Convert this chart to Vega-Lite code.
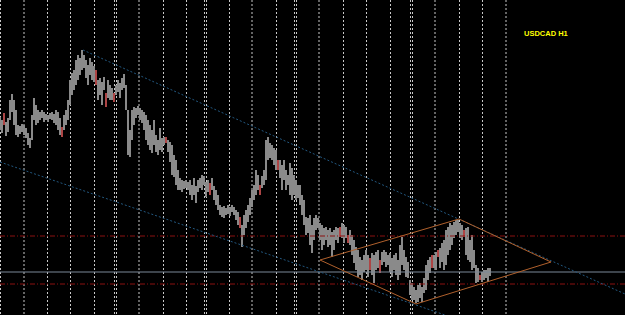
{
  "$schema": "https://vega.github.io/schema/vega-lite/v6.json",
  "width": 625,
  "height": 315,
  "autosize": {"type": "none"},
  "padding": 0,
  "background": "#000000",
  "config": {"view": {"stroke": null}, "axis": {"disable": true}},
  "datasets": {
    "bars": [
      {"t":0,"hi":1.3198,"lo":1.3185,"dir":"u"},{"t":2,"hi":1.3195,"lo":1.3182,"dir":"u"},{"t":4,"hi":1.3202,"lo":1.3190,"dir":"d"},{"t":6,"hi":1.3193,"lo":1.3179,"dir":"u"},{"t":8,"hi":1.3197,"lo":1.3183,"dir":"u"},
      {"t":10,"hi":1.3215,"lo":1.3195,"dir":"u"},{"t":12,"hi":1.3221,"lo":1.3203,"dir":"u"},{"t":14,"hi":1.3215,"lo":1.3190,"dir":"u"},{"t":16,"hi":1.3205,"lo":1.3180,"dir":"u"},{"t":18,"hi":1.3190,"lo":1.3178,"dir":"u"},
      {"t":20,"hi":1.3189,"lo":1.3181,"dir":"u"},{"t":22,"hi":1.3191,"lo":1.3183,"dir":"u"},{"t":24,"hi":1.3190,"lo":1.3180,"dir":"u"},{"t":26,"hi":1.3187,"lo":1.3177,"dir":"u"},{"t":28,"hi":1.3182,"lo":1.3170,"dir":"u"},
      {"t":30,"hi":1.3177,"lo":1.3167,"dir":"u"},{"t":32,"hi":1.3200,"lo":1.3175,"dir":"u"},{"t":34,"hi":1.3217,"lo":1.3195,"dir":"u"},{"t":36,"hi":1.3210,"lo":1.3190,"dir":"u"},{"t":38,"hi":1.3205,"lo":1.3192,"dir":"u"},
      {"t":40,"hi":1.3203,"lo":1.3195,"dir":"u"},{"t":42,"hi":1.3205,"lo":1.3197,"dir":"u"},{"t":44,"hi":1.3203,"lo":1.3193,"dir":"u"},{"t":46,"hi":1.3201,"lo":1.3195,"dir":"u"},{"t":48,"hi":1.3200,"lo":1.3193,"dir":"u"},
      {"t":50,"hi":1.3202,"lo":1.3196,"dir":"u"},{"t":52,"hi":1.3203,"lo":1.3195,"dir":"u"},{"t":54,"hi":1.3201,"lo":1.3192,"dir":"u"},{"t":56,"hi":1.3205,"lo":1.3190,"dir":"u"},{"t":58,"hi":1.3203,"lo":1.3185,"dir":"u"},
      {"t":60,"hi":1.3197,"lo":1.3180,"dir":"u"},{"t":62,"hi":1.3188,"lo":1.3178,"dir":"d"},{"t":64,"hi":1.3200,"lo":1.3185,"dir":"u"},{"t":66,"hi":1.3205,"lo":1.3190,"dir":"u"},{"t":68,"hi":1.3215,"lo":1.3195,"dir":"u"},
      {"t":70,"hi":1.3235,"lo":1.3210,"dir":"u"},{"t":72,"hi":1.3242,"lo":1.3220,"dir":"u"},{"t":74,"hi":1.3245,"lo":1.3225,"dir":"u"},{"t":76,"hi":1.3255,"lo":1.3230,"dir":"u"},{"t":78,"hi":1.3260,"lo":1.3235,"dir":"u"},
      {"t":80,"hi":1.3257,"lo":1.3240,"dir":"u"},{"t":82,"hi":1.3265,"lo":1.3245,"dir":"u"},{"t":84,"hi":1.3260,"lo":1.3247,"dir":"u"},{"t":86,"hi":1.3255,"lo":1.3237,"dir":"u"},{"t":88,"hi":1.3250,"lo":1.3230,"dir":"u"},
      {"t":90,"hi":1.3257,"lo":1.3240,"dir":"u"},{"t":92,"hi":1.3253,"lo":1.3235,"dir":"u"},{"t":94,"hi":1.3249,"lo":1.3233,"dir":"u"},{"t":96,"hi":1.3245,"lo":1.3230,"dir":"d"},{"t":98,"hi":1.3235,"lo":1.3215,"dir":"u"},
      {"t":100,"hi":1.3237,"lo":1.3220,"dir":"u"},{"t":102,"hi":1.3233,"lo":1.3210,"dir":"u"},{"t":104,"hi":1.3238,"lo":1.3225,"dir":"u"},{"t":106,"hi":1.3222,"lo":1.3208,"dir":"d"},{"t":108,"hi":1.3235,"lo":1.3217,"dir":"u"},
      {"t":110,"hi":1.3230,"lo":1.3215,"dir":"u"},{"t":112,"hi":1.3227,"lo":1.3215,"dir":"u"},{"t":114,"hi":1.3222,"lo":1.3213,"dir":"d"},{"t":116,"hi":1.3230,"lo":1.3220,"dir":"u"},{"t":118,"hi":1.3235,"lo":1.3223,"dir":"u"},
      {"t":120,"hi":1.3232,"lo":1.3217,"dir":"u"},{"t":122,"hi":1.3237,"lo":1.3225,"dir":"u"},{"t":124,"hi":1.3241,"lo":1.3227,"dir":"u"},{"t":126,"hi":1.3230,"lo":1.3205,"dir":"u"},{"t":128,"hi":1.3205,"lo":1.3160,"dir":"u"},
      {"t":130,"hi":1.3185,"lo":1.3158,"dir":"u"},{"t":132,"hi":1.3205,"lo":1.3175,"dir":"u"},{"t":134,"hi":1.3208,"lo":1.3190,"dir":"u"},{"t":136,"hi":1.3207,"lo":1.3197,"dir":"u"},{"t":138,"hi":1.3209,"lo":1.3200,"dir":"u"},
      {"t":140,"hi":1.3207,"lo":1.3195,"dir":"u"},{"t":142,"hi":1.3205,"lo":1.3192,"dir":"u"},{"t":144,"hi":1.3203,"lo":1.3185,"dir":"u"},{"t":146,"hi":1.3200,"lo":1.3175,"dir":"u"},{"t":148,"hi":1.3195,"lo":1.3170,"dir":"u"},
      {"t":150,"hi":1.3190,"lo":1.3165,"dir":"u"},{"t":152,"hi":1.3185,"lo":1.3162,"dir":"u"},{"t":154,"hi":1.3195,"lo":1.3170,"dir":"u"},{"t":156,"hi":1.3180,"lo":1.3163,"dir":"u"},{"t":158,"hi":1.3175,"lo":1.3160,"dir":"u"},
      {"t":160,"hi":1.3187,"lo":1.3165,"dir":"u"},{"t":162,"hi":1.3177,"lo":1.3163,"dir":"u"},{"t":164,"hi":1.3178,"lo":1.3170,"dir":"u"},{"t":166,"hi":1.3178,"lo":1.3172,"dir":"d"},{"t":168,"hi":1.3175,"lo":1.3163,"dir":"u"},
      {"t":170,"hi":1.3173,"lo":1.3153,"dir":"u"},{"t":172,"hi":1.3170,"lo":1.3140,"dir":"u"},{"t":174,"hi":1.3160,"lo":1.3138,"dir":"u"},{"t":176,"hi":1.3155,"lo":1.3130,"dir":"u"},{"t":178,"hi":1.3145,"lo":1.3125,"dir":"u"},
      {"t":180,"hi":1.3137,"lo":1.3125,"dir":"u"},{"t":182,"hi":1.3135,"lo":1.3123,"dir":"u"},{"t":184,"hi":1.3134,"lo":1.3126,"dir":"u"},{"t":186,"hi":1.3135,"lo":1.3127,"dir":"u"},{"t":188,"hi":1.3133,"lo":1.3125,"dir":"u"},
      {"t":190,"hi":1.3135,"lo":1.3120,"dir":"u"},{"t":192,"hi":1.3130,"lo":1.3115,"dir":"u"},{"t":194,"hi":1.3137,"lo":1.3120,"dir":"u"},{"t":196,"hi":1.3129,"lo":1.3112,"dir":"u"},{"t":198,"hi":1.3135,"lo":1.3123,"dir":"u"},
      {"t":200,"hi":1.3137,"lo":1.3127,"dir":"u"},{"t":202,"hi":1.3140,"lo":1.3125,"dir":"u"},{"t":204,"hi":1.3139,"lo":1.3130,"dir":"u"},{"t":206,"hi":1.3133,"lo":1.3118,"dir":"u"},{"t":208,"hi":1.3135,"lo":1.3123,"dir":"u"},
      {"t":210,"hi":1.3132,"lo":1.3120,"dir":"d"},{"t":212,"hi":1.3137,"lo":1.3125,"dir":"u"},{"t":214,"hi":1.3129,"lo":1.3115,"dir":"u"},{"t":216,"hi":1.3125,"lo":1.3110,"dir":"u"},{"t":218,"hi":1.3120,"lo":1.3105,"dir":"u"},
      {"t":220,"hi":1.3110,"lo":1.3100,"dir":"u"},{"t":222,"hi":1.3108,"lo":1.3098,"dir":"u"},{"t":224,"hi":1.3109,"lo":1.3097,"dir":"u"},{"t":226,"hi":1.3107,"lo":1.3100,"dir":"u"},{"t":228,"hi":1.3110,"lo":1.3101,"dir":"u"},
      {"t":230,"hi":1.3108,"lo":1.3099,"dir":"u"},{"t":232,"hi":1.3110,"lo":1.3103,"dir":"u"},{"t":234,"hi":1.3108,"lo":1.3100,"dir":"u"},{"t":236,"hi":1.3105,"lo":1.3095,"dir":"u"},{"t":238,"hi":1.3103,"lo":1.3090,"dir":"u"},
      {"t":240,"hi":1.3098,"lo":1.3087,"dir":"d"},{"t":242,"hi":1.3090,"lo":1.3068,"dir":"u"},{"t":244,"hi":1.3100,"lo":1.3080,"dir":"u"},{"t":246,"hi":1.3105,"lo":1.3087,"dir":"u"},{"t":248,"hi":1.3110,"lo":1.3093,"dir":"u"},
      {"t":250,"hi":1.3117,"lo":1.3100,"dir":"u"},{"t":252,"hi":1.3125,"lo":1.3108,"dir":"u"},{"t":254,"hi":1.3130,"lo":1.3115,"dir":"u"},{"t":256,"hi":1.3145,"lo":1.3120,"dir":"u"},{"t":258,"hi":1.3140,"lo":1.3125,"dir":"u"},
      {"t":260,"hi":1.3130,"lo":1.3120,"dir":"d"},{"t":262,"hi":1.3139,"lo":1.3127,"dir":"u"},{"t":264,"hi":1.3145,"lo":1.3130,"dir":"u"},{"t":266,"hi":1.3175,"lo":1.3135,"dir":"u"},{"t":268,"hi":1.3178,"lo":1.3155,"dir":"u"},
      {"t":270,"hi":1.3172,"lo":1.3157,"dir":"u"},{"t":272,"hi":1.3170,"lo":1.3155,"dir":"u"},{"t":274,"hi":1.3167,"lo":1.3150,"dir":"u"},{"t":276,"hi":1.3165,"lo":1.3145,"dir":"u"},{"t":278,"hi":1.3155,"lo":1.3145,"dir":"d"},
      {"t":280,"hi":1.3155,"lo":1.3137,"dir":"u"},{"t":282,"hi":1.3150,"lo":1.3125,"dir":"u"},{"t":284,"hi":1.3155,"lo":1.3135,"dir":"u"},{"t":286,"hi":1.3145,"lo":1.3125,"dir":"u"},{"t":288,"hi":1.3140,"lo":1.3130,"dir":"u"},
      {"t":290,"hi":1.3152,"lo":1.3120,"dir":"u"},{"t":292,"hi":1.3147,"lo":1.3115,"dir":"u"},{"t":294,"hi":1.3140,"lo":1.3120,"dir":"u"},{"t":296,"hi":1.3135,"lo":1.3115,"dir":"u"},{"t":298,"hi":1.3130,"lo":1.3117,"dir":"u"},
      {"t":300,"hi":1.3130,"lo":1.3110,"dir":"u"},{"t":302,"hi":1.3120,"lo":1.3100,"dir":"u"},{"t":304,"hi":1.3115,"lo":1.3090,"dir":"u"},{"t":306,"hi":1.3098,"lo":1.3080,"dir":"u"},{"t":308,"hi":1.3097,"lo":1.3082,"dir":"u"},
      {"t":310,"hi":1.3100,"lo":1.3070,"dir":"u"},{"t":312,"hi":1.3090,"lo":1.3062,"dir":"u"},{"t":314,"hi":1.3097,"lo":1.3075,"dir":"u"},{"t":316,"hi":1.3100,"lo":1.3085,"dir":"u"},{"t":318,"hi":1.3097,"lo":1.3087,"dir":"u"},
      {"t":320,"hi":1.3092,"lo":1.3075,"dir":"u"},{"t":322,"hi":1.3090,"lo":1.3065,"dir":"u"},{"t":324,"hi":1.3087,"lo":1.3070,"dir":"u"},{"t":326,"hi":1.3088,"lo":1.3075,"dir":"u"},{"t":328,"hi":1.3085,"lo":1.3068,"dir":"u"},
      {"t":330,"hi":1.3087,"lo":1.3070,"dir":"u"},{"t":332,"hi":1.3083,"lo":1.3058,"dir":"u"},{"t":334,"hi":1.3085,"lo":1.3065,"dir":"u"},{"t":336,"hi":1.3088,"lo":1.3075,"dir":"u"},{"t":338,"hi":1.3087,"lo":1.3072,"dir":"u"},
      {"t":340,"hi":1.3088,"lo":1.3078,"dir":"d"},{"t":342,"hi":1.3092,"lo":1.3077,"dir":"u"},{"t":344,"hi":1.3090,"lo":1.3072,"dir":"u"},{"t":346,"hi":1.3088,"lo":1.3077,"dir":"u"},{"t":348,"hi":1.3080,"lo":1.3072,"dir":"d"},
      {"t":350,"hi":1.3085,"lo":1.3070,"dir":"u"},{"t":352,"hi":1.3080,"lo":1.3060,"dir":"u"},{"t":354,"hi":1.3075,"lo":1.3052,"dir":"u"},{"t":356,"hi":1.3068,"lo":1.3045,"dir":"u"},{"t":358,"hi":1.3065,"lo":1.3038,"dir":"u"},
      {"t":360,"hi":1.3058,"lo":1.3040,"dir":"u"},{"t":362,"hi":1.3055,"lo":1.3035,"dir":"u"},{"t":364,"hi":1.3060,"lo":1.3043,"dir":"u"},{"t":366,"hi":1.3065,"lo":1.3045,"dir":"u"},{"t":368,"hi":1.3060,"lo":1.3038,"dir":"u"},
      {"t":370,"hi":1.3057,"lo":1.3045,"dir":"d"},{"t":372,"hi":1.3062,"lo":1.3040,"dir":"u"},{"t":374,"hi":1.3060,"lo":1.3032,"dir":"u"},{"t":376,"hi":1.3063,"lo":1.3045,"dir":"u"},{"t":378,"hi":1.3065,"lo":1.3047,"dir":"u"},
      {"t":380,"hi":1.3055,"lo":1.3042,"dir":"d"},{"t":382,"hi":1.3063,"lo":1.3050,"dir":"u"},{"t":384,"hi":1.3065,"lo":1.3053,"dir":"u"},{"t":386,"hi":1.3063,"lo":1.3048,"dir":"u"},{"t":388,"hi":1.3060,"lo":1.3050,"dir":"u"},
      {"t":390,"hi":1.3062,"lo":1.3043,"dir":"u"},{"t":392,"hi":1.3057,"lo":1.3038,"dir":"u"},{"t":394,"hi":1.3060,"lo":1.3045,"dir":"u"},{"t":396,"hi":1.3062,"lo":1.3040,"dir":"u"},{"t":398,"hi":1.3055,"lo":1.3035,"dir":"u"},
      {"t":400,"hi":1.3070,"lo":1.3040,"dir":"u"},{"t":402,"hi":1.3078,"lo":1.3050,"dir":"u"},{"t":404,"hi":1.3065,"lo":1.3045,"dir":"u"},{"t":406,"hi":1.3058,"lo":1.3038,"dir":"u"},{"t":408,"hi":1.3053,"lo":1.3037,"dir":"u"},
      {"t":410,"hi":1.3035,"lo":1.3020,"dir":"u"},{"t":412,"hi":1.3032,"lo":1.3015,"dir":"u"},{"t":414,"hi":1.3028,"lo":1.3015,"dir":"u"},{"t":416,"hi":1.3025,"lo":1.3012,"dir":"u"},{"t":418,"hi":1.3030,"lo":1.3013,"dir":"u"},
      {"t":420,"hi":1.3032,"lo":1.3017,"dir":"u"},{"t":422,"hi":1.3028,"lo":1.3013,"dir":"u"},{"t":424,"hi":1.3037,"lo":1.3022,"dir":"u"},{"t":426,"hi":1.3050,"lo":1.3025,"dir":"u"},{"t":428,"hi":1.3055,"lo":1.3035,"dir":"u"},
      {"t":430,"hi":1.3058,"lo":1.3042,"dir":"u"},{"t":432,"hi":1.3060,"lo":1.3047,"dir":"d"},{"t":434,"hi":1.3060,"lo":1.3047,"dir":"u"},{"t":436,"hi":1.3063,"lo":1.3045,"dir":"u"},{"t":438,"hi":1.3065,"lo":1.3058,"dir":"d"},
      {"t":440,"hi":1.3067,"lo":1.3047,"dir":"u"},{"t":442,"hi":1.3072,"lo":1.3053,"dir":"u"},{"t":444,"hi":1.3075,"lo":1.3045,"dir":"u"},{"t":446,"hi":1.3085,"lo":1.3050,"dir":"u"},{"t":448,"hi":1.3088,"lo":1.3060,"dir":"u"},
      {"t":450,"hi":1.3092,"lo":1.3065,"dir":"u"},{"t":452,"hi":1.3090,"lo":1.3070,"dir":"u"},{"t":454,"hi":1.3093,"lo":1.3077,"dir":"u"},{"t":456,"hi":1.3095,"lo":1.3080,"dir":"u"},{"t":458,"hi":1.3095,"lo":1.3083,"dir":"u"},
      {"t":460,"hi":1.3092,"lo":1.3077,"dir":"u"},{"t":462,"hi":1.3090,"lo":1.3075,"dir":"u"},{"t":464,"hi":1.3085,"lo":1.3078,"dir":"d"},{"t":466,"hi":1.3087,"lo":1.3060,"dir":"u"},{"t":468,"hi":1.3088,"lo":1.3055,"dir":"u"},
      {"t":470,"hi":1.3075,"lo":1.3053,"dir":"u"},{"t":472,"hi":1.3080,"lo":1.3045,"dir":"u"},{"t":474,"hi":1.3065,"lo":1.3047,"dir":"u"},{"t":476,"hi":1.3050,"lo":1.3032,"dir":"u"},{"t":478,"hi":1.3047,"lo":1.3033,"dir":"u"},
      {"t":480,"hi":1.3040,"lo":1.3035,"dir":"d"},{"t":482,"hi":1.3043,"lo":1.3033,"dir":"u"},{"t":484,"hi":1.3045,"lo":1.3035,"dir":"u"},{"t":486,"hi":1.3045,"lo":1.3037,"dir":"u"},{"t":488,"hi":1.3047,"lo":1.3033,"dir":"u"},
      {"t":490,"hi":1.3047,"lo":1.3039,"dir":"u"}
    ],
    "seps": [
      {"t":0.5},{"t":24},{"t":47.5},{"t":70.5},{"t":94.5},{"t":114.5},{"t":116.5},{"t":139},{"t":163.5},{"t":186.5},{"t":204.5},{"t":206.5},{"t":229.5},{"t":252},{"t":276.5},{"t":294.5},{"t":296.5},{"t":319},{"t":343.5},{"t":366.5},{"t":390.5},{"t":410.5},{"t":412.5},{"t":435},{"t":459.5},{"t":482.5},{"t":506}
    ],
    "levels": [
      {"p":1.3079,"kind":"res"},{"p":1.3043,"kind":"mid"},{"p":1.3031,"kind":"res"}
    ],
    "channels": [
      {"line":"upper","t":83,"p":1.3265},{"line":"upper","t":625,"p":1.3021},
      {"line":"lower","t":0,"p":1.3153},{"line":"lower","t":445,"p":1.3000}
    ],
    "diamond": [
      {"i":0,"t":320,"p":1.3055},{"i":1,"t":459,"p":1.3096},{"i":2,"t":551,"p":1.3053},{"i":3,"t":416,"p":1.3011},{"i":4,"t":320,"p":1.3055}
    ],
    "label": [
      {"t":524,"p":1.3281,"text":"USDCAD H1"}
    ]
  },
  "layer": [
    {
      "data": {"name": "seps"},
      "mark": {"type": "rule", "color": "#c8c8c8", "strokeWidth": 1, "strokeDash": [2, 2]},
      "encoding": {
        "x": {"field": "t", "type": "quantitative", "scale": {"domain": [0, 625], "nice": false, "zero": false}}
      }
    },
    {
      "data": {"name": "bars"},
      "mark": {"type": "rule", "strokeWidth": 2, "color": "#8a8a8a"},
      "encoding": {
        "x": {"field": "t", "type": "quantitative", "scale": {"domain": [0, 625], "nice": false, "zero": false}},
        "y": {"field": "hi", "type": "quantitative", "scale": {"domain": [1.3, 1.3315], "nice": false, "zero": false}},
        "y2": {"field": "lo"}
      }
    },
    {
      "data": {"name": "bars"},
      "transform": [{"filter": "datum.dir === 'd'"}],
      "mark": {"type": "rule", "strokeWidth": 1, "color": "#d00000"},
      "encoding": {
        "x": {"field": "t", "type": "quantitative", "scale": {"domain": [0, 625], "nice": false, "zero": false}},
        "y": {"field": "hi", "type": "quantitative", "scale": {"domain": [1.3, 1.3315], "nice": false, "zero": false}},
        "y2": {"field": "lo"}
      }
    },
    {
      "data": {"name": "levels"},
      "transform": [{"filter": "datum.kind === 'res'"}],
      "mark": {"type": "rule", "color": "#8b1010", "strokeWidth": 1, "strokeDash": [5, 2, 1, 2]},
      "encoding": {
        "y": {"field": "p", "type": "quantitative", "scale": {"domain": [1.3, 1.3315], "nice": false, "zero": false}}
      }
    },
    {
      "data": {"name": "levels"},
      "transform": [{"filter": "datum.kind === 'mid'"}],
      "mark": {"type": "rule", "color": "#7a8898", "strokeWidth": 1},
      "encoding": {
        "y": {"field": "p", "type": "quantitative", "scale": {"domain": [1.3, 1.3315], "nice": false, "zero": false}}
      }
    },
    {
      "data": {"name": "channels"},
      "mark": {"type": "line", "color": "#22577f", "strokeWidth": 1, "strokeDash": [2, 2], "clip": true},
      "encoding": {
        "x": {"field": "t", "type": "quantitative", "scale": {"domain": [0, 625], "nice": false, "zero": false}},
        "y": {"field": "p", "type": "quantitative", "scale": {"domain": [1.3, 1.3315], "nice": false, "zero": false}},
        "detail": {"field": "line", "type": "nominal"}
      }
    },
    {
      "data": {"name": "diamond"},
      "mark": {"type": "line", "color": "#b0602c", "strokeWidth": 1},
      "encoding": {
        "x": {"field": "t", "type": "quantitative", "scale": {"domain": [0, 625], "nice": false, "zero": false}},
        "y": {"field": "p", "type": "quantitative", "scale": {"domain": [1.3, 1.3315], "nice": false, "zero": false}},
        "order": {"field": "i", "type": "quantitative"}
      }
    },
    {
      "data": {"name": "label"},
      "mark": {"type": "text", "color": "#ffff00", "font": "Liberation Sans", "fontWeight": "bold", "fontSize": 7.5, "align": "left", "baseline": "middle"},
      "encoding": {
        "x": {"field": "t", "type": "quantitative", "scale": {"domain": [0, 625], "nice": false, "zero": false}},
        "y": {"field": "p", "type": "quantitative", "scale": {"domain": [1.3, 1.3315], "nice": false, "zero": false}},
        "text": {"field": "text", "type": "nominal"}
      }
    }
  ]
}
